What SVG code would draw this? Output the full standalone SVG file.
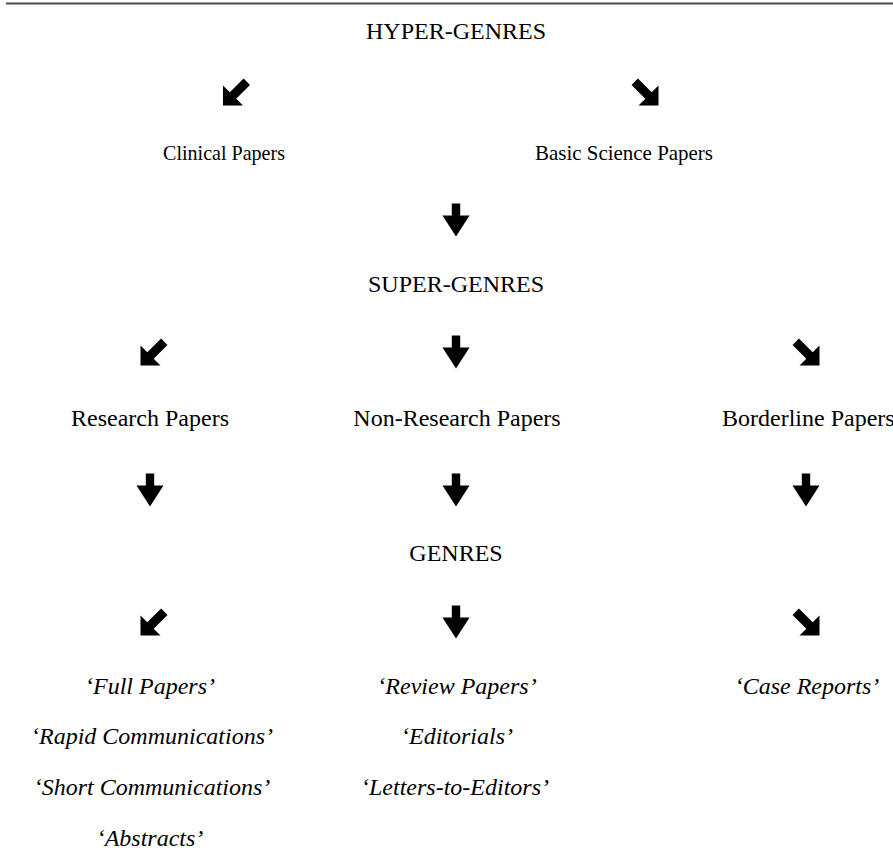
<svg xmlns="http://www.w3.org/2000/svg" xmlns:xlink="http://www.w3.org/1999/xlink" width="893" height="868" viewBox="0 0 893 868">
<style>
text{font-family:"Liberation Serif","Times New Roman",serif;font-size:24px;fill:#000;text-anchor:middle}
.it{font-style:italic}
.sm{font-size:22px}
.arr{fill:#000}
</style>
<defs>
<path id="dn" d="M0,16.5 L-13.5,-4.5 L-4.2,-4.5 L-4.2,-16.5 L4.2,-16.5 L4.2,-4.5 L13.5,-4.5 Z"/>
<path id="sw" d="M-13.5,13.5 V-6.5 L-6.7,0.3 L7.1,-13.5 L13.5,-7.1 L-0.3,6.7 L6.5,13.5 Z"/>
<path id="se" d="M13.5,13.5 V-6.5 L6.7,0.3 L-7.1,-13.5 L-13.5,-7.1 L0.3,6.7 L-6.5,13.5 Z"/>
</defs>
<rect width="893" height="868" fill="#fff"/>
<line x1="6" y1="3.5" x2="893" y2="3.5" stroke="#4d4d4d" stroke-width="2"/>
<g id="connectors" class="arr">
<use xlink:href="#sw" x="236.5" y="92"/>
<use xlink:href="#se" x="645" y="92"/>
<use xlink:href="#dn" x="456" y="220"/>
<use xlink:href="#sw" x="154" y="352"/>
<use xlink:href="#dn" x="456" y="352"/>
<use xlink:href="#se" x="806" y="352"/>
<use xlink:href="#dn" x="150" y="490"/>
<use xlink:href="#dn" x="456" y="490"/>
<use xlink:href="#dn" x="806" y="490"/>
<use xlink:href="#sw" x="154" y="622"/>
<use xlink:href="#dn" x="456" y="622"/>
<use xlink:href="#se" x="806" y="622"/>
</g>
<g id="hyper"><text x="456" y="39">HYPER-GENRES</text></g>
<g id="clinical"><text class="sm" x="224" y="160" textLength="122" lengthAdjust="spacingAndGlyphs">Clinical Papers</text></g>
<g id="basic"><text class="sm" x="624" y="160" textLength="178" lengthAdjust="spacingAndGlyphs">Basic Science Papers</text></g>
<g id="super"><text x="456" y="292">SUPER-GENRES</text></g>
<g id="research"><text x="150" y="426">Research Papers</text></g>
<g id="nonresearch"><text x="457" y="426">Non-Research Papers</text></g>
<g id="borderline"><text x="722" y="426" style="text-anchor:start">Borderline Papers</text></g>
<g id="genres"><text x="456" y="561">GENRES</text></g>
<g id="research-genres">
<text class="it" x="150" y="694">‘Full Papers’</text>
<text class="it" x="152" y="744">‘Rapid Communications’</text>
<text class="it" x="152" y="795">‘Short Communications’</text>
<text class="it" x="150" y="846">‘Abstracts’</text>
</g>
<g id="nonresearch-genres">
<text class="it" x="457" y="694">‘Review Papers’</text>
<text class="it" x="457" y="744">‘Editorials’</text>
<text class="it" x="455" y="795">‘Letters-to-Editors’</text>
</g>
<g id="borderline-genres"><text class="it" x="807" y="694">‘Case Reports’</text></g>
</svg>
